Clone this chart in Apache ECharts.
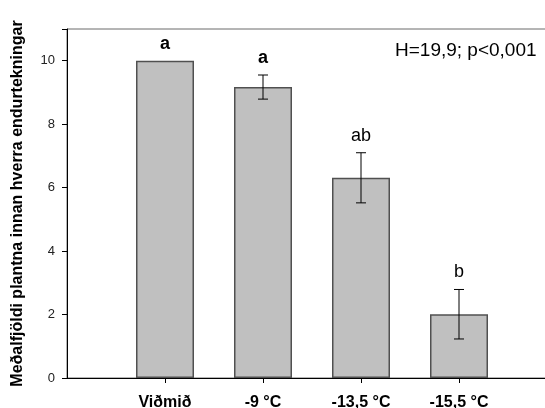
<!DOCTYPE html>
<html>
<head>
<meta charset="utf-8">
<script src="https://cdn.jsdelivr.net/npm/echarts@6/dist/echarts.min.js"></script>
<style>html,body{margin:0;padding:0;background:#fff;}#c{width:545px;height:408px;}</style>
</head>
<body>
<div id="c"></div>
<script>
var categories = ['Viðmið', '-9 °C', '-13,5 °C', '-15,5 °C'];
var means = [10, 9.17, 6.31, 2.01];
var errors = [0, 0.38, 0.79, 0.78];
var letters = ['a', 'a', 'ab', 'b'];
var letterBold = [true, true, false, false];
var yTicks = [0, 2, 4, 6, 8, 10];

var paddedCats = [''].concat(categories).concat(['']);
var barData = [null].concat(means).concat([null]);
var errData = categories.map(function (c, i) { return [i + 1, means[i], errors[i], i]; });

var chart = echarts.init(document.getElementById('c'), null, {renderer: 'canvas'});
chart.setOption({
  animation: false,
  grid: {left: 67, top: 29, width: 490, bottom: 30, outerBoundsMode: 'none', containLabel: false,
    show: true, borderColor: '#6b6b6b', borderWidth: 1, backgroundColor: 'transparent'},
  xAxis: {
    type: 'category',
    data: paddedCats,
    boundaryGap: false,
    axisLine: {lineStyle: {color: '#000', width: 1}},
    axisTick: {show: true, length: 5, interval: function (i) { return i > 0 && i < paddedCats.length - 1; }, lineStyle: {color: '#000'}},
    axisLabel: {interval: 0, margin: 17, fontFamily: 'Liberation Sans, Arial', fontWeight: 'bold', fontSize: 16, color: '#000'},
    splitLine: {show: false}
  },
  yAxis: {
    type: 'value',
    min: 0, max: 11, interval: 2,
    name: 'Meðalfjöldi plantna innan hverra endurtekningar',
    nameLocation: 'middle',
    nameGap: 41,
    nameTextStyle: {fontFamily: 'Liberation Sans, Arial', fontWeight: 'bold', fontSize: 16, color: '#000'},
    axisLine: {show: true, lineStyle: {color: '#000', width: 1}},
    axisTick: {show: true, length: 5, lineStyle: {color: '#000'}},
    axisLabel: {margin: 12, fontFamily: 'Liberation Sans, Arial', fontSize: 13, color: '#222',
      formatter: function (v) { return yTicks.indexOf(v) >= 0 ? String(v) : ''; }},
    splitLine: {show: false}
  },
  series: [
    {
      type: 'bar',
      data: barData,
      barWidth: 58,
      itemStyle: {color: '#c0c0c0', borderColor: '#505050', borderWidth: 1.5},
      z: 2
    },
    {
      type: 'custom',
      data: errData,
      z: 5,
      renderItem: function (params, api) {
        var x = api.value(0), m = api.value(1), e = api.value(2), idx = api.value(3);
        var top = api.coord([x, m + e]);
        var bot = api.coord([x, m - e]);
        var children = [];
        if (e > 0) {
          var cap = 5;
          var ls = {stroke: '#000', lineWidth: 1};
          children.push({type: 'line', shape: {x1: top[0], y1: top[1], x2: bot[0], y2: bot[1]}, style: ls});
          children.push({type: 'line', shape: {x1: top[0] - cap, y1: top[1], x2: top[0] + cap, y2: top[1]}, style: ls});
          children.push({type: 'line', shape: {x1: bot[0] - cap, y1: bot[1], x2: bot[0] + cap, y2: bot[1]}, style: ls});
        }
        children.push({
          type: 'text',
          style: {
            x: top[0], y: top[1] - 8,
            text: letters[idx],
            fill: '#000',
            font: (letterBold[idx] ? 'bold ' : '') + '18px "Liberation Sans", Arial',
            textAlign: 'center', textVerticalAlign: 'bottom'
          }
        });
        return {type: 'group', children: children};
      }
    }
  ],
  graphic: [
    {type: 'text', left: 395, top: 41, style: {text: 'H=19,9; p<0,001', fill: '#000', font: '19px "Liberation Sans", Arial'}}
  ]
});
</script>
</body>
</html>
